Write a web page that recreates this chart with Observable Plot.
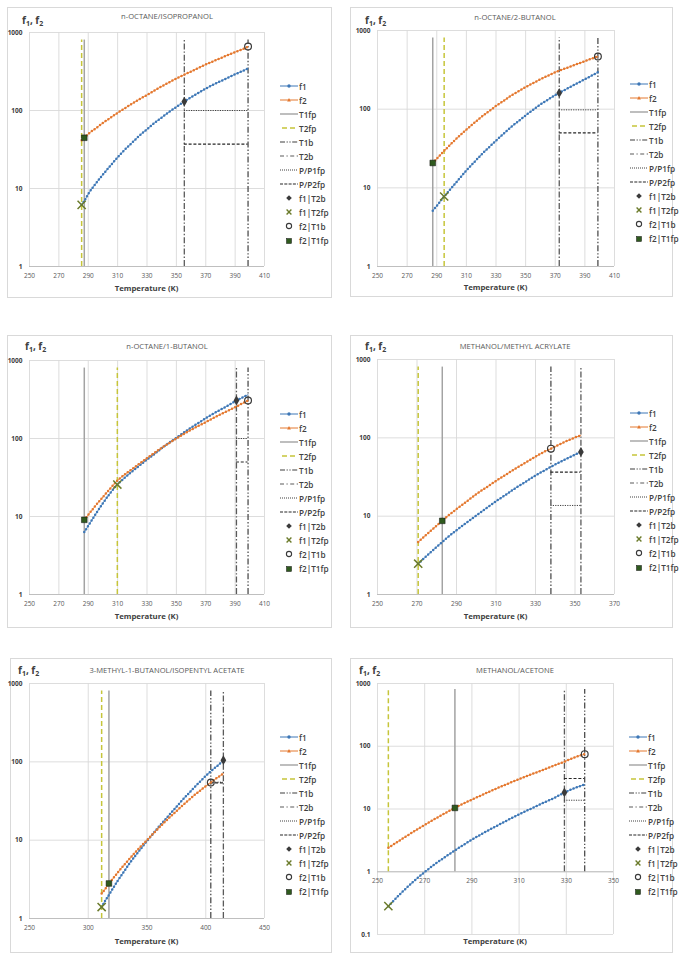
<!DOCTYPE html>
<html>
<head>
<meta charset="utf-8">
<script src="https://cdn.jsdelivr.net/npm/d3@7"></script>
<script src="https://cdn.jsdelivr.net/npm/@observablehq/plot@0.6"></script>
<style>
  body { margin: 0; background: #fff; font-family: "Open Sans", sans-serif; }
  #page { position: relative; width: 685px; height: 964px; overflow: hidden; background: #fff; }
  .frame { position: absolute; border: 1px solid #d9d9d9; box-sizing: border-box; background: #fff; }
  .title { position: absolute; font-size: 7.6px; color: #595959; white-space: nowrap; transform: translate(-50%, -50%); }
  .ylab { position: absolute; font-size: 10px; font-weight: 700; color: #404040; white-space: nowrap; transform: translateY(-50%); }
  .ylab sub { font-size: 70%; vertical-align: -2px; line-height: 0; }
  .xlab { position: absolute; font-size: 7.8px; font-weight: 700; color: #404040; white-space: nowrap; transform: translate(-50%, -50%); }
  .chart { position: absolute; }
  .legend { position: absolute; font-size: 8.2px; font-weight: 600; color: #404040; }
  .legend .row { height: 14.05px; display: flex; align-items: center; white-space: nowrap; }
  .legend svg { width: 18px; height: 10px; margin-right: 1px; flex: none; overflow: visible; }
</style>
</head>
<body>
<div id="page"></div>
<script>
// ---- chart data -------------------------------------------------------
const titles = [
  "n-OCTANE/ISOPROPANOL",
  "n-OCTANE/2-BUTANOL",
  "n-OCTANE/1-BUTANOL",
  "METHANOL/METHYL ACRYLATE",
  "3-METHYL-1-BUTANOL/ISOPENTYL ACETATE",
  "METHANOL/ACETONE"
];

// flash points and boiling points (K) of components 1 and 2
const T1fp = [287.3, 287.3, 287.3, 282.8, 317.6, 282.8];
const T2fp = [285.5, 295, 309.8, 270.6, 311.4, 254.6];
const T1b  = [398.8, 398.8, 398.8, 337.8, 404.3, 337.8];
const T2b  = [355.4, 372.7, 390.9, 353, 415, 329.2];

// pressure ratios drawn between the two boiling points
const PP1fp = [100, 98, 100, 13.7, 55, 13.8];
const PP2fp = [37, 50, 50, 36.6, 54, 30.6];

// extent of the vertical reference lines and the x-axis crossing
const lineTop = 800;
const axisCross = 1;

// axis ticks
const xTicksA = [250, 270, 290, 310, 330, 350, 370, 390, 410];
const xTicksB = [250, 270, 290, 310, 330, 350, 370];
const xTicksC = [250, 300, 350, 400, 450];
const xTicksD = [250, 270, 290, 310, 330, 350];
const yTicksA = [1, 10, 100, 1000];
const yTicksB = [0.1, 1, 10, 100, 1000];

// n-octane / isopropanol
const p1T  = [285.5, 287.3, 290, 295, 300, 305, 310, 315, 320, 325, 330, 335, 340, 345, 350, 355.4, 360, 365, 370, 375, 380, 385, 390, 395, 398.8];
const p1F1 = [6.17, 6.92, 8.51, 11.5, 15.1, 19.5, 25.1, 31.6, 38.9, 47.9, 57.5, 69.2, 81.3, 95.5, 111, 130, 148, 168, 191, 214, 237, 263, 292, 320, 347];
const p1F2 = [41.7, 44.7, 50.1, 58.9, 69.2, 80.4, 93.3, 107, 123, 140, 158, 180, 204, 229, 257, 288, 316, 351, 389, 427, 468, 513, 562, 610, 661];

// n-octane / 2-butanol
const p2T  = [287.3, 290, 295, 300, 305, 310, 315, 320, 325, 330, 335, 340, 345, 350, 355, 360, 365, 370, 372.7, 375, 380, 385, 390, 395, 398.8];
const p2F1 = [5.12, 5.89, 7.76, 10.0, 12.9, 16.6, 20.9, 26.3, 32.4, 39.8, 48.4, 58.9, 70.0, 83.2, 97.7, 115, 132, 151, 161, 170, 191, 214, 240, 269, 295];
const p2F2 = [20.7, 23.4, 29.5, 36.7, 45.2, 55.0, 66.1, 79.4, 93.3, 110, 127, 148, 168, 191, 214, 240, 266, 295, 309, 320, 347, 376, 407, 442, 467];

// n-octane / 1-butanol
const p3T  = [287.3, 290, 295, 300, 305, 309.8, 315, 320, 325, 330, 335, 340, 345, 350, 355, 360, 365, 370, 375, 380, 385, 390.9, 395, 398.8];
const p3F1 = [6.31, 7.59, 10.7, 14.8, 20.0, 25.7, 31.6, 38.0, 45.2, 53.7, 63.1, 75.0, 88.1, 102, 119, 138, 158, 182, 207, 234, 263, 307, 335, 366];
const p3F2 = [9.06, 10.5, 13.8, 17.8, 22.9, 28.8, 34.7, 40.7, 47.9, 56.2, 65.3, 75.9, 87.1, 100, 114, 129, 145, 162, 182, 204, 226, 257, 282, 307];

// methanol / methyl acrylate
const p4T  = [270.6, 275, 280, 282.8, 285, 290, 295, 300, 305, 310, 315, 320, 325, 330, 335, 337.8, 340, 345, 350, 353];
const p4F1 = [2.47, 3.13, 4.07, 4.68, 5.25, 6.61, 8.22, 10.2, 12.6, 15.5, 18.8, 22.9, 27.5, 33.1, 38.9, 42.7, 45.7, 53.1, 61.0, 66.1];
const p4F2 = [4.67, 5.89, 7.59, 8.71, 9.77, 12.3, 15.3, 19.1, 23.2, 28.2, 33.9, 40.7, 48.4, 57.5, 67.6, 72.8, 77.6, 89.1, 101, 108];

// 3-methyl-1-butanol / isopentyl acetate
const p5T  = [311.4, 315, 317.6, 320, 325, 330, 335, 340, 345, 350, 355, 360, 365, 370, 375, 380, 385, 390, 395, 400, 404.3, 410, 415];
const p5F1 = [1.40, 1.74, 2.00, 2.29, 3.02, 3.89, 5.01, 6.31, 7.85, 9.77, 12.0, 14.8, 18.0, 21.9, 26.6, 32.4, 38.9, 46.8, 55.6, 66.1, 75.9, 89.1, 105];
const p5F2 = [2.08, 2.45, 2.80, 3.09, 3.85, 4.73, 5.75, 7.00, 8.41, 10.0, 12.0, 14.3, 17.0, 20.0, 23.4, 27.5, 32.0, 37.2, 42.7, 49.0, 54.5, 63.1, 70.8];

// methanol / acetone
const p6T  = [254.6, 260, 265, 270, 275, 280, 282.8, 285, 290, 295, 300, 305, 310, 315, 320, 325, 329.2, 333, 337.8];
const p6F1 = [0.283, 0.457, 0.684, 0.989, 1.38, 1.86, 2.19, 2.48, 3.24, 4.17, 5.25, 6.61, 8.22, 10.1, 12.4, 15.1, 18.3, 21.1, 24.6];
const p6F2 = [2.41, 3.26, 4.29, 5.57, 7.18, 9.16, 10.4, 11.5, 14.1, 17.2, 20.9, 25.1, 29.9, 35.5, 41.7, 49.5, 56.9, 65.3, 74.8];

const legendLabels = ["f1", "f2", "T1fp", "T2fp", "T1b", "T2b", "P/P1fp", "P/P2fp", "f1|T2b", "f1|T2fp", "f2|T1b", "f2|T1fp"];

// ---- styling ------------------------------------------------------------
const C = {
  f1: "#3d77b6", f2: "#e4782f", t1fp: "#a3a3a3", t2fp: "#c6c53a",
  t1b: "#3f3f3f", t2b: "#5a5a5a", pp1: "#404040", pp2: "#262626",
  diamond: "#3a3a3a", cross: "#6b7b2b", circle: "#3a3a3a", square: "#2f5a1e",
  grid: "#d9d9d9", axis: "#bfbfbf"
};
const dash = { t2fp: "5,3", t1b: "6,2,1.4,2,1.4,2", t2b: "6,2,1.4,2", pp1: "1.2,1.2", pp2: "3,1.8" };

const series = [
  { T: p1T, f1: p1F1, f2: p1F2, xTicks: xTicksA, yTicks: yTicksA },
  { T: p2T, f1: p2F1, f2: p2F2, xTicks: xTicksA, yTicks: yTicksA },
  { T: p3T, f1: p3F1, f2: p3F2, xTicks: xTicksA, yTicks: yTicksA },
  { T: p4T, f1: p4F1, f2: p4F2, xTicks: xTicksB, yTicks: yTicksA },
  { T: p5T, f1: p5F1, f2: p5F2, xTicks: xTicksC, yTicks: yTicksA },
  { T: p6T, f1: p6F1, f2: p6F2, xTicks: xTicksD, yTicks: yTicksB }
];

// page geometry of each panel: frame box, plot area, label anchors
const layout = [
  { fx: 7,   fy: 7,   fw: 325, fh: 291, px0: 29,  px1: 264, py0: 32,  py1: 266, tx: 167, ty: 16,  lx: 22,  ly: 20,  xly: 288 },
  { fx: 350, fy: 7,   fw: 323, fh: 290, px0: 377, px1: 614, py0: 30,  py1: 266, tx: 515, ty: 17,  lx: 365, ly: 20,  xly: 287 },
  { fx: 7,   fy: 335, fw: 325, fh: 293, px0: 29,  px1: 264, py0: 360, py1: 594, tx: 167, ty: 346, lx: 25,  ly: 346, xly: 616 },
  { fx: 350, fy: 335, fw: 323, fh: 293, px0: 377, px1: 614, py0: 359, py1: 594, tx: 515, ty: 346, lx: 365, ly: 346, xly: 616 },
  { fx: 10,  fy: 658, fw: 322, fh: 295, px0: 29,  px1: 264, py0: 683, py1: 918, tx: 167, ty: 670, lx: 18,  ly: 670, xly: 941 },
  { fx: 350, fy: 658, fw: 323, fh: 295, px0: 377, px1: 613, py0: 683, py1: 934, tx: 515, ty: 670, lx: 359, ly: 670, xly: 941 }
];

const fmt = d3.format("~g");
const page = document.getElementById("page");

function el(tag, cls, css, html) {
  const e = document.createElement(tag);
  if (cls) e.className = cls;
  Object.assign(e.style, css);
  if (html != null) e.innerHTML = html;
  page.appendChild(e);
  return e;
}

// small swatches for the legend
function swatch(i) {
  const line = (stroke, da, w) =>
    `<line x1="0" y1="5" x2="18" y2="5" stroke="${stroke}" stroke-width="${w || 1.2}" ${da ? `stroke-dasharray="${da}"` : ""}/>`;
  switch (i) {
    case 0: return line(C.f1, null, 1) + `<circle cx="9" cy="5" r="1.7" fill="${C.f1}"/>`;
    case 1: return line(C.f2, null, 1) + `<path d="M9,3.1L10.9,6.4H7.1Z" fill="${C.f2}"/>`;
    case 2: return line(C.t1fp, null, 1.4);
    case 3: return `<line x1="2" y1="5" x2="18" y2="5" stroke="${C.t2fp}" stroke-width="1.4" stroke-dasharray="${dash.t2fp}"/>`;
    case 4: return line(C.t1b, "5,1.6,1.2,1.6,1.2,1.6", 1.2);
    case 5: return line(C.t2b, "4,2.5,1.2,2.5", 1.2);
    case 6: return line(C.pp1, "1,1", 1);
    case 7: return line(C.pp2, "3,1.3", 1.2);
    case 8: return `<path d="M9,2.2L11.8,5L9,7.8L6.2,5Z" fill="${C.diamond}"/>`;
    case 9: return `<path d="M6.6,2.6L11.4,7.4M11.4,2.6L6.6,7.4" stroke="${C.cross}" stroke-width="1.4"/>`;
    case 10: return `<circle cx="9" cy="5" r="2.6" fill="none" stroke="${C.circle}" stroke-width="1.1"/>`;
    case 11: return `<rect x="6.5" y="2.5" width="5" height="5" fill="${C.square}" stroke="#111" stroke-width="0.5"/>`;
  }
}

series.forEach((p, i) => {
  const L = layout[i];
  el("div", "frame", { left: L.fx + "px", top: L.fy + "px", width: L.fw + "px", height: L.fh + "px" });
  el("div", "title", { left: L.tx + "px", top: L.ty + "px" }, titles[i]);
  el("div", "ylab", { left: L.lx + "px", top: L.ly + "px" }, "f<sub>1</sub>, f<sub>2</sub>");

  const rows = p.T.map((t, j) => ({ T: t, f1: p.f1[j], f2: p.f2[j] }));
  const at = (key, t) => p[key][p.T.indexOf(t)];
  const bLo = Math.min(T1b[i], T2b[i]);
  const bHi = Math.max(T1b[i], T2b[i]);
  const vert = { y1: axisCross, y2: lineTop };
  const bead = { strokeWidth: 2.5, strokeDasharray: "0,3.4", strokeLinecap: "round", curve: "monotone-x" };

  const width = L.px1 - L.fx + 8;
  const chart = Plot.plot({
    width,
    height: L.fh,
    marginLeft: L.px0 - L.fx,
    marginRight: 8,
    marginTop: L.py0 - L.fy,
    marginBottom: L.fy + L.fh - L.py1,
    style: { fontFamily: "Open Sans, sans-serif", background: "transparent", overflow: "visible" },
    x: { domain: [p.xTicks[0], p.xTicks[p.xTicks.length - 1]], axis: null },
    y: { type: "log", domain: [p.yTicks[0], p.yTicks[p.yTicks.length - 1]] },
    marks: [
      Plot.ruleX(p.xTicks, { stroke: C.grid, strokeWidth: 0.9 }),
      Plot.ruleY(p.yTicks, { stroke: C.grid, strokeWidth: 0.9 }),
      Plot.ruleY([axisCross], { stroke: C.axis, strokeWidth: 1 }),
      Plot.axisY({ ticks: p.yTicks, tickSize: 0, tickPadding: 7, tickFormat: fmt, fontSize: 6.5, fontWeight: "bold", fill: "#404040" }),
      Plot.text(p.xTicks, { x: d => d, y: () => axisCross, dy: 9, text: d => fmt(d), fontSize: 6.5, fill: "#595959" }),
      // flash point and boiling point temperatures
      Plot.ruleX([T1fp[i]], { ...vert, stroke: C.t1fp, strokeWidth: 1.5 }),
      Plot.ruleX([T2fp[i]], { ...vert, stroke: C.t2fp, strokeWidth: 1.5, strokeDasharray: dash.t2fp }),
      Plot.ruleX([T1b[i]], { ...vert, stroke: C.t1b, strokeWidth: 1.2, strokeDasharray: dash.t1b }),
      Plot.ruleX([T2b[i]], { ...vert, stroke: C.t2b, strokeWidth: 1.3, strokeDasharray: dash.t2b }),
      // pressure ratios
      Plot.ruleY([PP1fp[i]], { x1: bLo, x2: bHi, stroke: C.pp1, strokeWidth: 1, strokeDasharray: dash.pp1 }),
      Plot.ruleY([PP2fp[i]], { x1: bLo, x2: bHi, stroke: C.pp2, strokeWidth: 1.2, strokeDasharray: dash.pp2 }),
      // f1 and f2 curves, drawn as a thin line with a bead of markers along it
      Plot.line(rows, { x: "T", y: "f1", stroke: C.f1, strokeWidth: 0.8, curve: "monotone-x" }),
      Plot.line(rows, { x: "T", y: "f1", stroke: C.f1, ...bead }),
      Plot.line(rows, { x: "T", y: "f2", stroke: C.f2, strokeWidth: 0.8, curve: "monotone-x" }),
      Plot.line(rows, { x: "T", y: "f2", stroke: C.f2, ...bead }),
      // point markers
      Plot.dot([T2b[i]], { x: d => d, y: d => at("f1", d), symbol: "diamond", fill: C.diamond, r: 3 }),
      Plot.dot([T2fp[i]], { x: d => d, y: d => at("f1", d), symbol: "times", stroke: C.cross, strokeWidth: 1.5, r: 3.8 }),
      Plot.dot([T1b[i]], { x: d => d, y: d => at("f2", d), symbol: "circle", fill: "none", stroke: C.circle, strokeWidth: 1.2, r: 3.4 }),
      Plot.dot([T1fp[i]], { x: d => d, y: d => at("f2", d), symbol: "square", fill: C.square, stroke: "#111", strokeWidth: 0.5, r: 3.2 })
    ]
  });
  chart.classList.add("chart");
  Object.assign(chart.style, { left: L.fx + "px", top: L.fy + "px" });
  page.appendChild(chart);

  el("div", "xlab", { left: (L.px0 + L.px1) / 2 + "px", top: L.xly + "px" }, "Temperature (K)");

  const lg = el("div", "legend", { left: (L.px1 + 16) + "px", top: (L.py0 + 54 - 7) + "px" });
  legendLabels.forEach((lab, k) => {
    const r = document.createElement("div");
    r.className = "row";
    r.innerHTML = `<svg viewBox="0 0 18 10">${swatch(k)}</svg><span>${lab}</span>`;
    lg.appendChild(r);
  });
});
</script>
</body>
</html>
